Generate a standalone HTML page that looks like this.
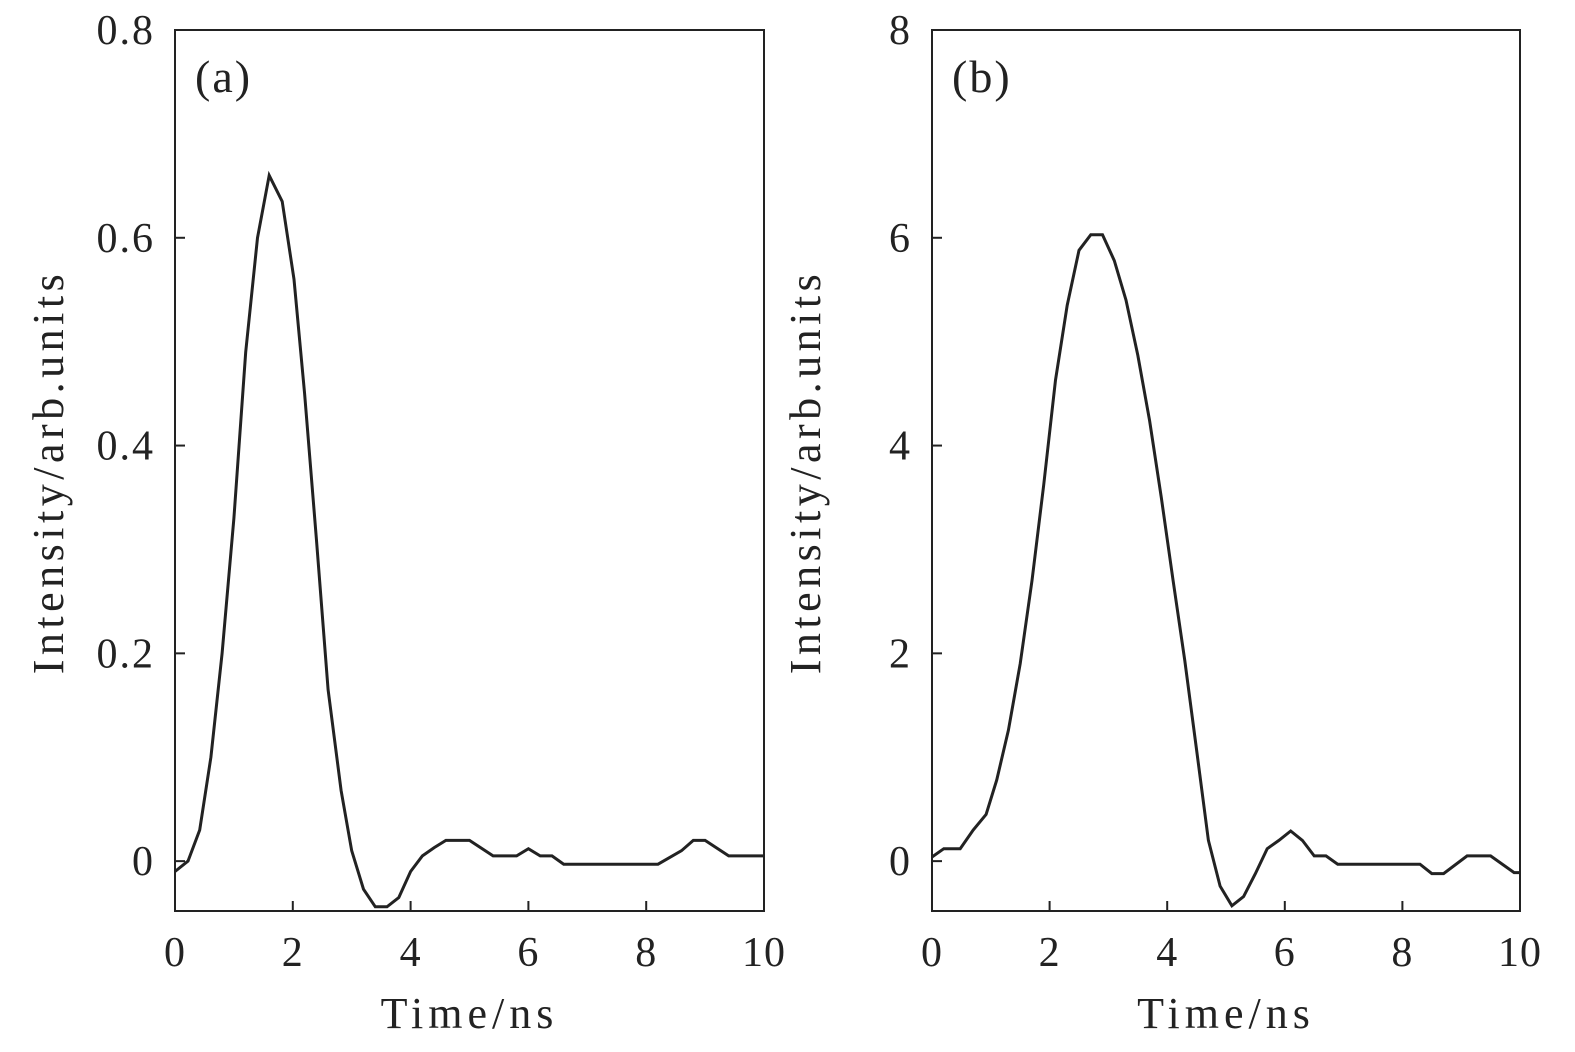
<!DOCTYPE html>
<html><head><meta charset="utf-8"><style>
body{margin:0;background:#fff;}
svg{display:block;font-family:"Liberation Serif",serif;}
</style></head><body>
<svg id="chart" width="1575" height="1052" viewBox="0 0 1575 1052" xmlns="http://www.w3.org/2000/svg"></svg>
<script>
const timeA=[0,0.22,0.42,0.61,0.8,1.0,1.2,1.4,1.6,1.82,2.02,2.2,2.4,2.6,2.82,3.0,3.2,3.4,3.6,3.8,4.0,4.2,4.4,4.6,5.0,5.4,5.8,6.0,6.2,6.4,6.6,8.2,8.6,8.8,9.0,9.4,10];
const intensityA=[-0.01,0,0.03,0.10,0.2,0.33,0.49,0.6,0.66,0.635,0.56,0.45,0.31,0.165,0.068,0.01,-0.027,-0.044,-0.044,-0.035,-0.01,0.005,0.013,0.02,0.02,0.005,0.005,0.012,0.005,0.005,-0.003,-0.003,0.01,0.02,0.02,0.005,0.005];
const timeB=[0,0.2,0.48,0.7,0.92,1.1,1.3,1.5,1.7,1.9,2.1,2.3,2.5,2.7,2.9,3.1,3.3,3.5,3.7,3.9,4.1,4.3,4.5,4.7,4.9,5.1,5.3,5.5,5.7,5.9,6.1,6.3,6.5,6.7,6.9,8.3,8.5,8.7,9.1,9.5,9.9,10];
const intensityB=[0.04,0.12,0.12,0.3,0.45,0.78,1.26,1.9,2.7,3.62,4.63,5.35,5.88,6.03,6.03,5.78,5.4,4.87,4.24,3.5,2.7,1.93,1.07,0.2,-0.24,-0.43,-0.34,-0.12,0.12,0.2,0.29,0.2,0.05,0.05,-0.03,-0.03,-0.12,-0.12,0.05,0.05,-0.11,-0.11];
const xTicks=[0,2,4,6,8,10];
const yTicksA=[0,0.2,0.4,0.6,0.8];
const yTickLabelsA=["0","0.2","0.4","0.6","0.8"];
const yTicksB=[0,2,4,6,8];
const yTickLabelsB=["0","2","4","6","8"];
const NS="http://www.w3.org/2000/svg";
const svg=document.getElementById('chart');
function mk(tag,attrs,parent){const e=document.createElementNS(NS,tag);for(const k in attrs)e.setAttribute(k,attrs[k]);(parent||svg).appendChild(e);return e;}
function panel(id,left,right,ymin,ymax,xs,ys,yt,ytl,tag){
  const top=30,bottom=911;
  const g=mk('g',{});
  
  
  const sx=v=>left+(v/10)*(right-left);
  const sy=v=>bottom-(v-ymin)/(ymax-ymin)*(bottom-top);
  const fr=mk('rect',{x:left,y:top,width:right-left,height:bottom-top,fill:'none',stroke:'#222','stroke-width':2},g);
  
  
  xTicks.forEach(t=>{
    mk('line',{x1:sx(t),x2:sx(t),y1:bottom,y2:bottom-10,stroke:'#222','stroke-width':2},g);
    const tx=mk('text',{x:sx(t),y:966,'font-size':42,'letter-spacing':1,'text-anchor':'middle',fill:'#222'},g);
    tx.textContent=t;
    
    
  });
  yt.forEach((t,i)=>{
    mk('line',{x1:left,x2:left+10,y1:sy(t),y2:sy(t),stroke:'#222','stroke-width':2},g);
    const tx=mk('text',{x:left-20,y:sy(t)+14,'font-size':42,'letter-spacing':2,'text-anchor':'end',fill:'#222'},g);
    tx.textContent=ytl[i];
    
    
  });
  const xl=mk('text',{x:(left+right)/2,y:1028,'font-size':44,'letter-spacing':5,'text-anchor':'middle',fill:'#222'},g);
  xl.textContent='Time/ns';
  
  
  const yx=left-112;
  const yl=mk('text',{x:yx,y:472,'font-size':44,'letter-spacing':4.5,'text-anchor':'middle',fill:'#222',transform:`rotate(-90 ${yx} 472)`},g);
  yl.textContent='Intensity/arb.units';
  
  
  const pl=mk('text',{x:left+20,y:92,'font-size':46,'letter-spacing':2,fill:'#222'},g);
  pl.textContent=tag;
  
  
  const d=xs.map((x,i)=>(i?'L':'M')+sx(x).toFixed(1)+','+sy(ys[i]).toFixed(1)).join(' ');
  const p=mk('path',{d:d,fill:'none',stroke:'#222','stroke-width':3,'stroke-linejoin':'miter'},g);
  
  
}
panel('a',175,764,-0.048,0.8,timeA,intensityA,yTicksA,yTickLabelsA,'(a)');
panel('b',932,1520,-0.48,8,timeB,intensityB,yTicksB,yTickLabelsB,'(b)');
</script>
</body></html>
